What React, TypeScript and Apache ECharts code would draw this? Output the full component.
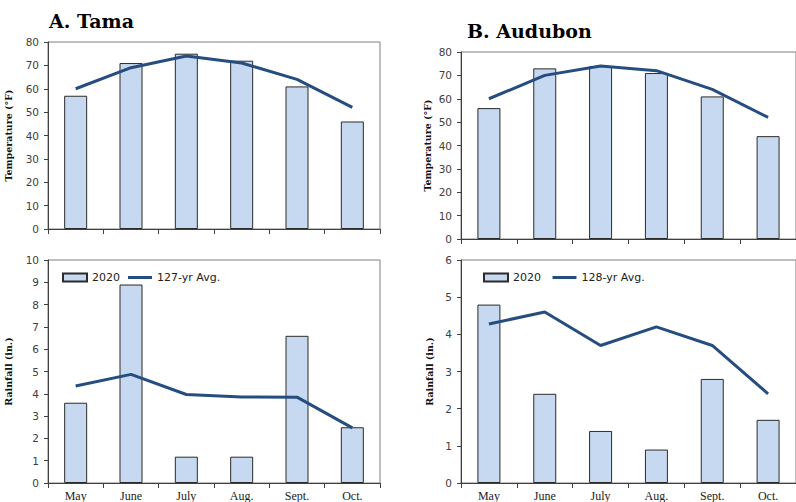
import React, { useEffect, useRef } from "react";
import * as echarts from "echarts";

const months = ["May", "June", "July", "Aug.", "Sept.", "Oct."];
const tamaTemp2020 = [57, 71, 75, 72, 61, 46];
const tamaTempAvg = [60, 69, 74, 71, 64, 52];
const tamaRain2020 = [3.6, 8.9, 1.18, 1.18, 6.6, 2.5];
const tamaRainAvg = [4.35, 4.87, 3.97, 3.86, 3.85, 2.47];
const audTemp2020 = [56, 73, 74, 71, 61, 44];
const audTempAvg = [60, 70, 74, 72, 64, 52];
const audRain2020 = [4.8, 2.4, 1.4, 0.9, 2.8, 1.7];
const audRainAvg = [4.28, 4.6, 3.7, 4.2, 3.7, 2.4];

const BAR_FILL = "#c6d9f0";
const LINE_COLOR = "#264d80";
const AXIS_COLOR = "#404040";
const LINE_ICON = "path://M0,0 L8,0 L8,1 L0,1 Z";

export default function App() {
  const ref = useRef<HTMLDivElement>(null);
  useEffect(() => {
    if (!ref.current) return;
    const chart = echarts.init(ref.current, undefined, { renderer: "svg" });

    const grids = [
      { left: 48, top: 42, width: 332, height: 187 },
      { left: 48, top: 260, width: 332, height: 224 },
      { left: 461, top: 52, width: 338, height: 187 },
      { left: 461, top: 260, width: 338, height: 224 },
    ].map((g) => ({ ...g, show: true, borderColor: "#7f7f7f", borderWidth: 1, backgroundColor: "transparent" }));

    const xAxes = grids.map((_, i) => ({
      type: "category",
      gridIndex: i,
      data: months,
      boundaryGap: true,
      axisLine: { lineStyle: { color: AXIS_COLOR, width: 1 } },
      axisTick: { show: true, length: 5, lineStyle: { color: AXIS_COLOR } },
      axisLabel: {
        show: i === 1 || i === 3,
        margin: 7,
        fontFamily: "Liberation Serif",
        fontSize: 12,
        color: "#222",
      },
    }));

    const yCfg = [
      { max: 80, interval: 10, name: "Temperature (°F)", gap: 35 },
      { max: 10, interval: 1, name: "Rainfall (in.)", gap: 35 },
      { max: 80, interval: 10, name: "Temperature (°F)", gap: 29 },
      { max: 6, interval: 1, name: "Rainfall (in.)", gap: 27 },
    ];
    const yAxes = yCfg.map((c, i) => ({
      type: "value",
      gridIndex: i,
      min: 0,
      max: c.max,
      interval: c.interval,
      name: c.name,
      nameLocation: "middle",
      nameGap: c.gap,
      nameRotate: 90,
      nameTextStyle: {
        fontFamily: "DejaVu Serif",
        fontWeight: "bold",
        fontSize: 9.5,
        color: "#111",
      },
      splitLine: { show: false },
      axisLine: { show: true, lineStyle: { color: AXIS_COLOR, width: 1 } },
      axisTick: { show: true, length: 4, lineStyle: { color: AXIS_COLOR } },
      axisLabel: {
        margin: 9,
        fontFamily: "DejaVu Sans",
        fontSize: 10.5,
        color: "#404040",
      },
    }));

    const barSeries = (name: string, data: number[], idx: number) => ({
      type: "bar",
      name,
      xAxisIndex: idx,
      yAxisIndex: idx,
      data,
      barWidth: 23,
      itemStyle: { color: BAR_FILL, borderColor: "#2b2b2b", borderWidth: 1 },
    });
    const lineSeries = (name: string, data: number[], idx: number) => ({
      type: "line",
      name,
      xAxisIndex: idx,
      yAxisIndex: idx,
      data,
      symbol: "none",
      lineStyle: { color: LINE_COLOR, width: 3 },
      itemStyle: { color: LINE_COLOR },
      z: 5,
    });

    const legendBase = {
      orient: "horizontal",
      itemWidth: 24,
      itemHeight: 8,
      itemGap: 8,
      symbolKeepAspect: true,
      textStyle: { fontFamily: "DejaVu Sans", fontSize: 11, color: "#222" },
    };

    chart.setOption({
      animation: false,
      backgroundColor: "#ffffff",
      title: [
        {
          text: "A. Tama",
          left: 44,
          top: 6,
          textStyle: { fontFamily: "DejaVu Serif", fontWeight: "bold", fontSize: 19, color: "#000" },
        },
        {
          text: "B. Audubon",
          left: 462,
          top: 16,
          textStyle: { fontFamily: "DejaVu Serif", fontWeight: "bold", fontSize: 19, color: "#000" },
        },
      ],
      legend: [
        {
          ...legendBase,
          left: 57,
          top: 267,
          data: [
            { name: "2020", icon: "rect" },
            { name: "127-yr Avg.", icon: LINE_ICON, itemStyle: { color: LINE_COLOR, borderWidth: 0 } },
          ],
        },
        {
          ...legendBase,
          left: 478,
          top: 267,
          data: [
            { name: "2020 ", icon: "rect" },
            { name: "128-yr Avg.", icon: LINE_ICON, itemStyle: { color: LINE_COLOR, borderWidth: 0 } },
          ],
        },
      ],
      grid: grids,
      xAxis: xAxes,
      yAxis: yAxes,
      series: [
        barSeries("Tama temp 2020", tamaTemp2020, 0),
        lineSeries("Tama temp avg", tamaTempAvg, 0),
        barSeries("2020", tamaRain2020, 1),
        lineSeries("127-yr Avg.", tamaRainAvg, 1),
        barSeries("Audubon temp 2020", audTemp2020, 2),
        lineSeries("Audubon temp avg", audTempAvg, 2),
        barSeries("2020 ", audRain2020, 3),
        lineSeries("128-yr Avg.", audRainAvg, 3),
      ],
    });
    return () => chart.dispose();
  }, []);

  return (
    <div
      ref={ref}
      style={{ position: "fixed", left: 0, top: 0, width: 796, height: 502 }}
    />
  );
}
